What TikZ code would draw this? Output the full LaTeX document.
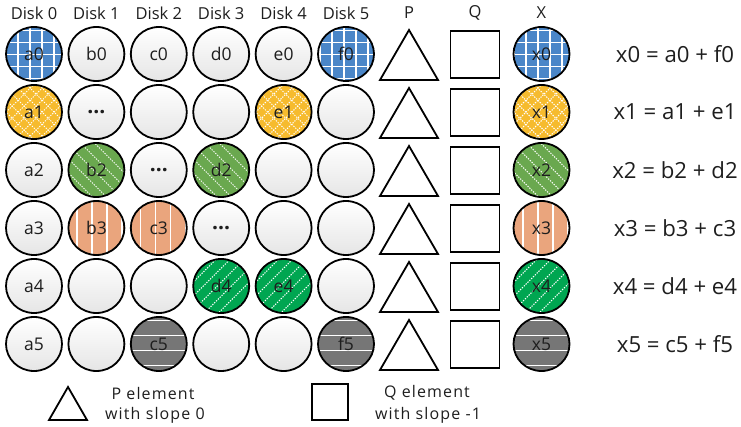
\documentclass[tikz,border=0pt]{standalone}
\usepackage{fontspec}
\setmainfont{Open Sans}
\newfontfamily\legfont[LetterSpace=7.0]{Open Sans}
\usetikzlibrary{shapes.geometric}
\definecolor{cblue}{RGB}{74,134,200}
\definecolor{cyellow}{RGB}{246,187,46}
\definecolor{cgreen}{RGB}{106,168,79}
\definecolor{csalmon}{RGB}{234,165,125}
\definecolor{cdgreen}{RGB}{0,166,81}
\definecolor{cgray}{RGB}{118,118,118}
\definecolor{ctext}{RGB}{30,30,30}
\newcommand{\dotsx}{{\fontsize{21}{21}\selectfont\bfseries ...}}
\tikzset{
  disk/.style={ellipse, draw=black, line width=1.8pt, minimum width=56pt, minimum height=54pt, inner sep=0pt, text=ctext, font=\fontsize{17.5}{17.5}\selectfont},
  plain/.style={disk, top color=white, bottom color=black!10},
  wl/.style={white, line width=1.3pt},
  wd/.style={white, line width=1pt, dash pattern=on 1.3pt off 1.3pt},
  gridp/.style={disk, fill=cblue, path picture={\begin{scope}[shift={(path picture bounding box.center)}]
      \foreach \i in {-3,...,3}{\draw[wl] (\i*12+6,-40)--(\i*12+6,40); \draw[wl] (-40,\i*12+6)--(40,\i*12+6);}\end{scope}}},
  crossp/.style={disk, fill=cyellow, path picture={\begin{scope}[shift={(path picture bounding box.center)}]
      \foreach \i in {-7,...,7}{\draw[wd] (\i*12-40,40)--(\i*12+40,-40); \draw[wd] (\i*12-40,-40)--(\i*12+40,40);}\end{scope}}},
  backp/.style={disk, fill=cgreen, path picture={\begin{scope}[shift={(path picture bounding box.center)}]
      \foreach \i in {-6,...,6}{\draw[wd] (\i*14-40,-40)--(\i*14+40,40);}\end{scope}}},
  vertp/.style={disk, fill=csalmon, path picture={\begin{scope}[shift={(path picture bounding box.center)}]
      \foreach \i in {-3,...,3}{\draw[wl] (\i*15-9,-40)--(\i*15-9,40);}\end{scope}}},
  fwdp/.style={disk, fill=cdgreen, path picture={\begin{scope}[shift={(path picture bounding box.center)}]
      \foreach \i in {-6,...,6}{\draw[wd] (\i*14-40,40)--(\i*14+40,-40);}\end{scope}}},
  horzp/.style={disk, fill=cgray, path picture={\begin{scope}[shift={(path picture bounding box.center)}]
      \foreach \i in {-3,...,3}{\draw[wl] (-40,\i*15-15)--(40,\i*15-15);}\end{scope}}},
  hdr/.style={font=\fontsize{16.5}{16.5}\selectfont, text=ctext},
  eqn/.style={font=\fontsize{22.2}{22.2}\selectfont, text=ctext},
  leg/.style={font=\legfont\fontsize{16}{16}\selectfont, text=ctext, align=center},
  sq/.style={draw=black, line width=1.8pt, minimum width=49pt, minimum height=47pt, inner sep=0pt},
  tri/.style={draw=black, line width=1.8pt, line join=miter},
}
\begin{document}
\begin{tikzpicture}[x=1pt,y=-1pt]
\useasboundingbox (0,0) rectangle (741,427);
% headers
\foreach \c in {0,...,5}{\node[hdr] (h\c) at (34+62.4*\c,13) {Disk \c};}
\node[hdr] (hP) at (409,13) {P};
\node[hdr] (hQ) at (475,13) {Q};
\node[hdr] (hX) at (541.5,13) {X};
% row 0
\node[gridp] (a0) at (34,54) {a0};
\node[plain] (b0) at (96.4,54) {b0};
\node[plain] (c0) at (158.8,54) {c0};
\node[plain] (d0) at (221.2,54) {d0};
\node[plain] (e0) at (283.6,54) {e0};
\node[gridp] (f0) at (346,54) {f0};
\node[gridp] (x0) at (541.5,54) {x0};
% row 1
\node[crossp] (a1) at (34,112) {a1};
\node[plain] (b1) at (96.4,112) {\dotsx};
\node[plain] (c1) at (158.8,112) {};
\node[plain] (d1) at (221.2,112) {};
\node[crossp] (e1) at (283.6,112) {e1};
\node[plain] (f1) at (346,112) {};
\node[crossp] (x1) at (541.5,112) {x1};
% row 2
\node[plain] (a2) at (34,170) {a2};
\node[backp] (b2) at (96.4,170) {b2};
\node[plain] (c2) at (158.8,170) {\dotsx};
\node[backp] (d2) at (221.2,170) {d2};
\node[plain] (e2) at (283.6,170) {};
\node[plain] (f2) at (346,170) {};
\node[backp] (x2) at (541.5,170) {x2};
% row 3
\node[plain] (a3) at (34,228) {a3};
\node[vertp] (b3) at (96.4,228) {b3};
\node[vertp] (c3) at (158.8,228) {c3};
\node[plain] (d3) at (221.2,228) {\dotsx};
\node[plain] (e3) at (283.6,228) {};
\node[plain] (f3) at (346,228) {};
\node[vertp] (x3) at (541.5,228) {x3};
% row 4
\node[plain] (a4) at (34,286) {a4};
\node[plain] (b4) at (96.4,286) {};
\node[plain] (c4) at (158.8,286) {};
\node[fwdp] (d4) at (221.2,286) {d4};
\node[fwdp] (e4) at (283.6,286) {e4};
\node[plain] (f4) at (346,286) {};
\node[fwdp] (x4) at (541.5,286) {x4};
% row 5
\node[plain] (a5) at (34,344) {a5};
\node[plain] (b5) at (96.4,344) {};
\node[horzp] (c5) at (158.8,344) {c5};
\node[plain] (d5) at (221.2,344) {};
\node[plain] (e5) at (283.6,344) {};
\node[horzp] (f5) at (346,344) {f5};
\node[horzp] (x5) at (541.5,344) {x5};
% P and Q
\foreach \r in {0,...,5}{
  \draw[tri] (380,{80+58*\r}) -- (409,{30+58*\r}) -- (438,{80+58*\r}) -- cycle;
  \node[sq] (q\r) at (475,{54.5+58*\r}) {};
}
% equations
\node[eqn] (e0q) at (675,54) {x0 = a0 + f0};
\node[eqn] (e1q) at (675,112) {x1 = a1 + e1};
\node[eqn] (e2q) at (675,170) {x2 = b2 + d2};
\node[eqn] (e3q) at (675,228) {x3 = b3 + c3};
\node[eqn] (e4q) at (675,286) {x4 = d4 + e4};
\node[eqn] (e5q) at (675,344) {x5 = c5 + f5};
% legend
\draw[tri] (49,420) -- (68,387) -- (87,420) -- cycle;
\node[leg] (lp1) at (153,393) {P element};
\node[leg] (lp2) at (155,415) {with slope 0};
\node[sq, minimum width=36pt, minimum height=36pt] (lq) at (330,402) {};
\node[leg] (lq1) at (427,393) {Q element};
\node[leg] (lq2) at (428,415) {with slope -1};
\end{tikzpicture}
\end{document}
